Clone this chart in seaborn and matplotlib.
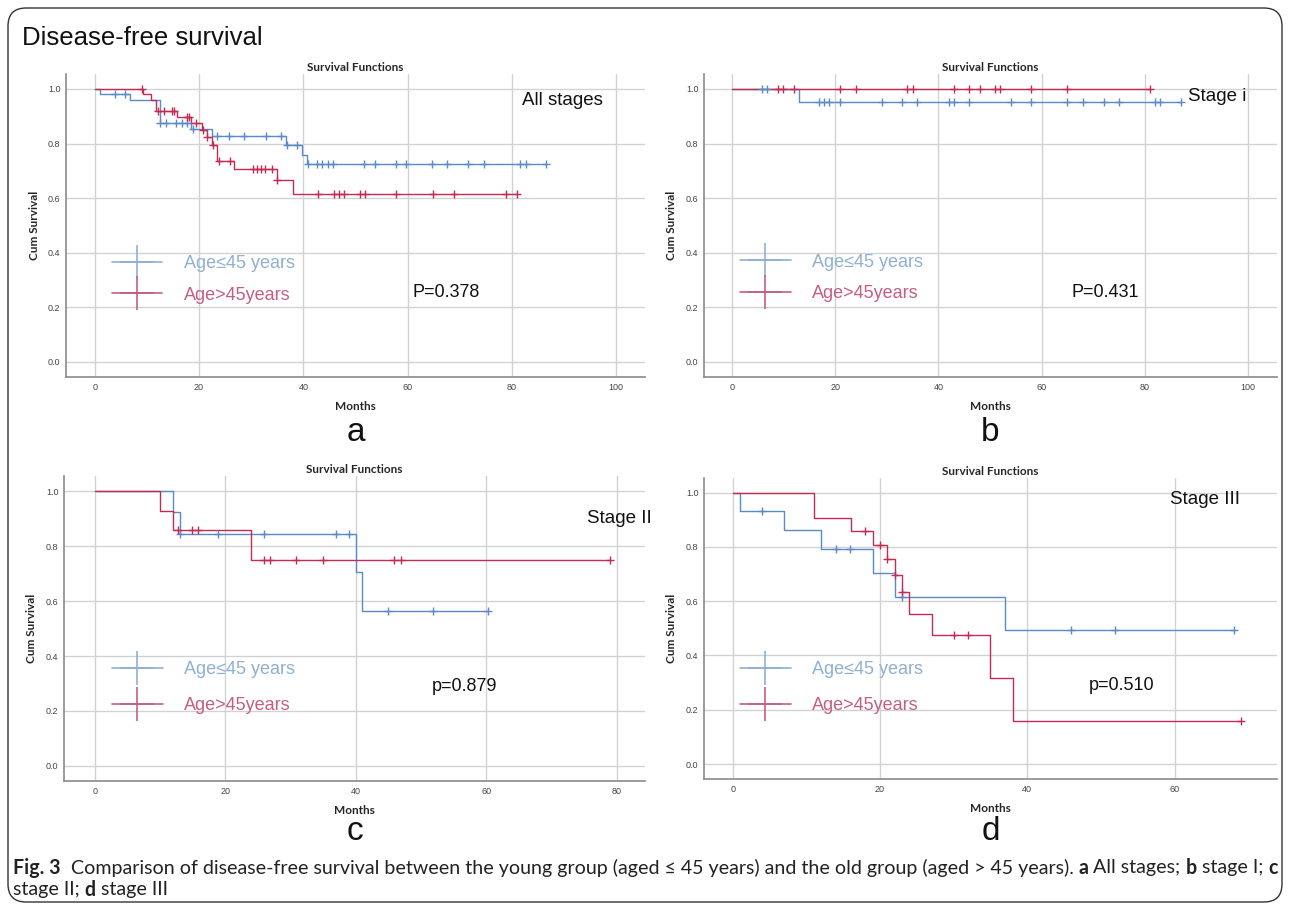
import numpy as np
import pandas as pd
import matplotlib
matplotlib.use("Agg")
import matplotlib.pyplot as plt
import seaborn as sns
from matplotlib.lines import Line2D
from matplotlib.patches import FancyBboxPatch

# ---- data (months, cumulative survival) ----
# panel a: all stages
a_young_t = [0, 1.0, 6.7, 12.6, 18.4, 22.5, 36.6, 39.8, 40.7]
a_young_s = [1.0, 0.981, 0.961, 0.876, 0.852, 0.826, 0.796, 0.759, 0.724]
a_young_cens = [3.8, 5.8, 12.6, 13.6, 15.5, 16.7, 17.7, 18.8, 23.4, 25.7, 28.6, 32.8,
                35.7, 36.8, 38.7, 40.9, 42.6, 43.6, 44.7, 45.7, 51.6, 53.7, 57.7, 59.6,
                64.6, 67.6, 71.6, 74.7, 81.6, 82.6, 86.6]
a_old_t = [0, 9.2, 10.8, 11.8, 15.8, 18.5, 20.5, 21.5, 22.5, 23.5, 26.7, 35.0, 38.0]
a_old_s = [1.0, 0.981, 0.960, 0.921, 0.896, 0.874, 0.849, 0.825, 0.796, 0.738, 0.707, 0.665, 0.617]
a_old_cens = [9.0, 12.2, 13.2, 14.8, 15.2, 17.7, 18.0, 19.5, 20.7, 21.6, 22.6, 23.9, 25.9,
              30.3, 31.1, 31.9, 32.7, 33.9, 35.0, 42.9, 45.9, 46.9, 47.8, 50.9, 51.8,
              57.8, 64.8, 68.9, 78.9, 80.9]

# panel b: stage I
b_young_t = [0, 13.1]
b_young_s = [1.0, 0.953]
b_young_cens = [5.9, 6.8, 16.9, 17.9, 18.9, 21.0, 29.0, 32.9, 35.9, 42.0, 43.0, 46.0,
                54.0, 58.0, 65.0, 68.0, 72.0, 75.0, 82.0, 83.0, 87.1]
b_old_t = [0]
b_old_s = [1.0]
b_old_cens = [8.9, 10.0, 12.0, 21.0, 24.0, 34.0, 35.0, 43.0, 46.0, 48.0, 51.0, 52.0,
              58.0, 65.0, 81.1]

# panel c: stage II
c_young_t = [0, 12, 13, 40, 41]
c_young_s = [1.0, 0.923, 0.846, 0.705, 0.564]
c_young_cens = [13.0, 18.9, 25.9, 37.0, 38.9, 44.9, 51.9, 60.2]
c_old_t = [0, 10, 12, 24]
c_old_s = [1.0, 0.929, 0.857, 0.750]
c_old_cens = [12.8, 14.9, 15.9, 25.9, 26.9, 30.9, 34.9, 45.9, 46.9, 79.0]

# panel d: stage III
d_young_t = [0, 1, 7, 12, 19, 22, 37]
d_young_s = [1.0, 0.933, 0.862, 0.791, 0.704, 0.616, 0.493]
d_young_cens = [4.0, 14.0, 15.9, 23.0, 46.0, 51.9, 68.0]
d_old_t = [0, 11, 16, 19, 21, 22, 23, 24, 27, 35, 38]
d_old_s = [1.0, 0.906, 0.857, 0.807, 0.754, 0.696, 0.633, 0.553, 0.475, 0.317, 0.158]
d_old_cens = [18.0, 20.0, 21.0, 22.0, 23.0, 30.0, 32.0, 69.0]

panel_letters = ["a", "b", "c", "d"]
stage_labels = ["All stages", "Stage i", "Stage II", "Stage III"]
p_labels = ["P=0.378", "P=0.431", "p=0.879", "p=0.510"]
group_labels = ["Age\u226445 years", "Age>45years"]
x_ticks = [[0, 20, 40, 60, 80, 100], [0, 20, 40, 60, 80, 100], [0, 20, 40, 60, 80], [0, 20, 40, 60]]
y_ticks = [0.0, 0.2, 0.4, 0.6, 0.8, 1.0]

BLUE = "#5a8bc8"
RED = "#c32b52"
BLUE_LEG = "#8fb0d3"
RED_LEG = "#c55f82"
SANS = ["Liberation Sans", "DejaVu Sans"]


def km_frames(times, surv, cens):
    """step-curve frame (extended to last censor) and censor-mark frame"""
    t_end = max(max(cens), times[-1])
    line = pd.DataFrame({"Months": times + [t_end], "Surv": surv + [surv[-1]]})
    idx = np.searchsorted(np.array(times), np.array(cens), side="right") - 1
    marks = pd.DataFrame({"Months": cens, "Surv": np.array(surv)[idx]})
    return line, marks


def draw_curve(ax, times, surv, cens, color):
    line, marks = km_frames(times, surv, cens)
    sns.lineplot(data=line, x="Months", y="Surv", drawstyle="steps-post", color=color,
                 linewidth=1.0, ax=ax, zorder=3)
    sns.scatterplot(data=marks, x="Months", y="Surv", marker="+", s=26, color=color,
                    linewidth=1.0, ax=ax, zorder=4)


def style_axes(ax, xlim, xticks):
    ax.set_xlim(*xlim)
    ax.set_ylim(-0.055, 1.055)
    ax.set_xticks(xticks)
    ax.set_yticks(y_ticks)
    ax.set_yticklabels([f"{v:.1f}" for v in y_ticks])
    ax.grid(True, color="#d2d2d2", linewidth=1.0)
    ax.set_axisbelow(True)
    ax.tick_params(length=0, labelsize=6.5, labelcolor="#444444", pad=4)
    for side in ["top", "right"]:
        ax.spines[side].set_visible(False)
    for side in ["left", "bottom"]:
        ax.spines[side].set_color("#8a8a8a")
        ax.spines[side].set_linewidth(1.2)
    ax.set_xlabel("Months", fontsize=8.5, fontweight="bold", family="Lato", labelpad=7)
    ax.set_ylabel("Cum Survival", fontsize=8.5, fontweight="bold", family="Lato", labelpad=6)
    ax.set_title("Survival Functions", fontsize=8.5, fontweight="bold", family="Lato", pad=2)


sns.set_theme(style="white")
plt.rcParams["font.family"] = SANS

fig = plt.figure(figsize=(12.9, 9.1), dpi=100)

boxes = [
    [0.0512, 0.5857, 0.4488, 0.333],
    [0.5457, 0.5857, 0.4442, 0.333],
    [0.0496, 0.1418, 0.4504, 0.335],
    [0.5457, 0.1440, 0.4442, 0.331],
]
xlims = [(-5.5, 105.5), (-5.4, 105.6), (-4.7, 84.3), (-3.9, 73.9)]
curves = [
    ((a_young_t, a_young_s, a_young_cens), (a_old_t, a_old_s, a_old_cens)),
    ((b_young_t, b_young_s, b_young_cens), (b_old_t, b_old_s, b_old_cens)),
    ((c_young_t, c_young_s, c_young_cens), (c_old_t, c_old_s, c_old_cens)),
    ((d_young_t, d_young_s, d_young_cens), (d_old_t, d_old_s, d_old_cens)),
]
stage_pos = [(0.788, 0.914), (0.845, 0.927), (0.90, 0.862), (0.813, 0.927)]
p_pos = [(0.598, 0.28), (0.642, 0.28), (0.633, 0.311), (0.672, 0.309)]
leg_pos = [(0.079, 0.322), (0.063, 0.327), (0.083, 0.306), (0.063, 0.304)]
leg_spacing = [0.8, 0.8, 1.05, 1.05]
letter_y = [-0.212, -0.212, -0.193, -0.203]

for i, box in enumerate(boxes):
    ax = fig.add_axes(box)
    young, old = curves[i]
    draw_curve(ax, *young, BLUE)
    draw_curve(ax, *old, RED)
    style_axes(ax, xlims[i], x_ticks[i])

    ax.text(*stage_pos[i], stage_labels[i], transform=ax.transAxes, fontsize=13.5,
            va="center", ha="left", color="#111111", clip_on=False)
    ax.text(*p_pos[i], p_labels[i], transform=ax.transAxes, fontsize=13,
            va="center", ha="left", color="#111111")

    handles = [Line2D([], [], color=BLUE_LEG, marker="+", markersize=25, markeredgewidth=1.2,
                      linewidth=1.2),
               Line2D([], [], color=RED_LEG, marker="+", markersize=25, markeredgewidth=1.2,
                      linewidth=1.2)]
    ax.legend(handles, group_labels, loc="center left", bbox_to_anchor=leg_pos[i],
              frameon=False, fontsize=13, labelcolor=[BLUE_LEG, RED_LEG],
              handlelength=2.8, handletextpad=1.2, labelspacing=leg_spacing[i],
              borderpad=0, borderaxespad=0)

    # panel letter under the axes
    ax.text(0.5, letter_y[i], panel_letters[i], transform=ax.transAxes, fontsize=24,
            ha="center", va="baseline", color="#111111")

# heading
fig.text(22 / 1290, 1 - 38 / 910, "Disease-free survival", fontsize=18.5, va="center",
         ha="left", color="#111111")

# rounded frame around the figure
frame = FancyBboxPatch((8 / 1290, 8 / 910), 1274 / 1290, 894 / 910,
                       boxstyle="round,pad=0,rounding_size=0.014", mutation_aspect=1290 / 910,
                       transform=fig.transFigure, fill=False, edgecolor="#333333",
                       linewidth=1.0)
fig.patches.append(frame)

# caption, written piece by piece so the bold parts sit inline
caption_lines = [
    [("Fig. 3", True), ("  Comparison of disease-free survival between the young group (aged \u2264 45 years) "
                        "and the old group (aged > 45 years). ", False), ("a", True), (" All stages; ", False),
     ("b", True), (" stage I; ", False), ("c", True)],
    [("stage II; ", False), ("d", True), (" stage III", False)],
]
renderer = fig.canvas.get_renderer()
cap_font = ["Lato", "DejaVu Sans"]


def line_width(pieces, size):
    total = 0
    for txt, bold in pieces:
        t = fig.text(0, 0, txt, fontsize=size, fontweight="bold" if bold else "normal",
                     family=cap_font)
        total += t.get_window_extent(renderer).width
        t.remove()
    return total


# scale caption so the first line spans the frame like the reference
cap_size = 11.0 * (1262 / line_width(caption_lines[0], 11.0))

for row, pieces in enumerate(caption_lines):
    x = 13 / 1290
    y = 1 - (868 + row * 22) / 910
    for txt, bold in pieces:
        t = fig.text(x, y, txt, fontsize=cap_size, fontweight="bold" if bold else "normal",
                     family=cap_font, va="center", ha="left", color="#222222")
        x += t.get_window_extent(renderer).width / 1290

fig.savefig("out.png", dpi=100)
